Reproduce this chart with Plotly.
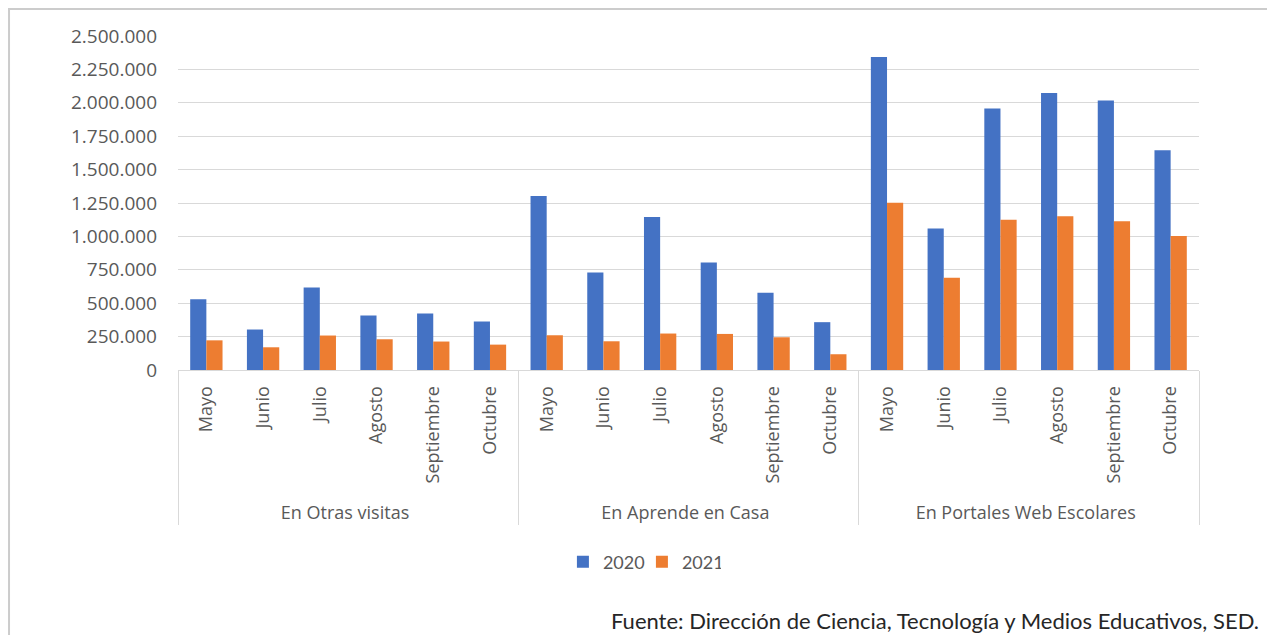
import plotly.graph_objects as go

groups = ["En Otras visitas", "En Aprende en Casa", "En Portales Web Escolares"]
months = ["Mayo", "Junio", "Julio", "Agosto", "Septiembre", "Octubre"]

v2020 = [530000, 303000, 618000, 408000, 423000, 363000,
         1303000, 730000, 1145000, 805000, 578000, 358000,
         2343000, 1060000, 1958000, 2073000, 2018000, 1645000]
v2021 = [222000, 170000, 258000, 230000, 213000, 190000,
         260000, 215000, 273000, 270000, 245000, 118000,
         1252000, 690000, 1125000, 1150000, 1113000, 1003000]

series_names = ["2020", "2021"]
colors = ["#4472C4", "#ED7D31"]

# pad the longest month label (non-breaking spaces) so group labels sit a bit lower
month_labels = [("\u00a0\u00a0" + m) if m == "Septiembre" else m for m in months]

xg = [g for g in groups for _ in month_labels]
xm = [m for _ in groups for m in month_labels]

fig = go.Figure()
for name, vals, col in zip(series_names, [v2020, v2021], colors):
    fig.add_trace(go.Bar(x=[xg, xm], y=vals, name=name, marker_color=col,
                         marker_line_width=0))

# page body has an 8px margin: figure spans x 8..1275, y 8..635
fig.update_layout(
    width=1267, height=627,
    paper_bgcolor="white", plot_bgcolor="white",
    margin=dict(l=170, r=76, t=28, b=265),
    barmode="group", bargap=0.43, bargroupgap=0,
    separators=",.",
    font=dict(family="Lato", color="#595959", size=24),
    legend=dict(orientation="h", x=0.377, xanchor="left", y=-0.575, yanchor="middle",
                font=dict(size=18, color="#595959", family="Lato"), itemwidth=30,
                entrywidth=34, entrywidthmode="pixels",
                tracegroupgap=0),
    showlegend=True,
)
fig.update_yaxes(range=[0, 2500000], dtick=250000, tickformat=",d",
                 showgrid=True, gridcolor="#d9d9d9", gridwidth=1,
                 zeroline=False, showline=False, ticks="",
                 tickfont=dict(size=19, color="#595959", family="Open Sans"),
                 ticklabelstandoff=20)
fig.update_xaxes(type="multicategory", tickangle=-90, showline=True,
                 linecolor="#d9d9d9", linewidth=1,
                 showdividers=True, dividercolor="#d9d9d9", dividerwidth=1,
                 ticklabelstandoff=8,
                 tickfont=dict(size=18, color="#595959", family="Open Sans"))

fig.add_shape(type="rect", xref="paper", yref="paper",
              x0=-0.1655, x1=1.0734, y0=-0.82, y1=1.0808,
              line=dict(color="#cccccc", width=2), layer="above")
fig.add_annotation(text="Fuente: Dirección de Ciencia, Tecnología y Medios Educativos, SED.",
                   xref="paper", yref="paper", x=1.061, y=-0.749,
                   xanchor="right", yanchor="middle", showarrow=False,
                   font=dict(size=22, color="#262626", family="Lato"))

fig.write_html("out.html")
